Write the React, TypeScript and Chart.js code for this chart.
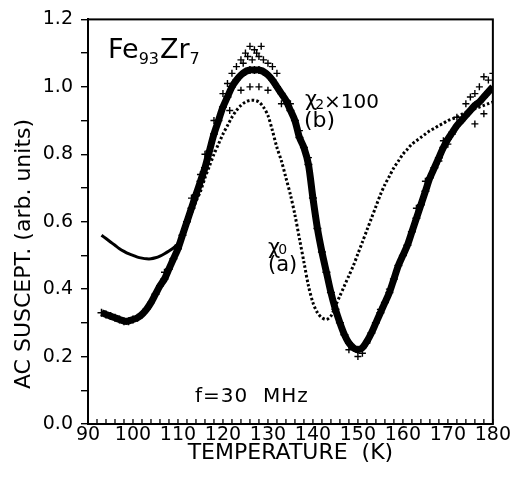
import React, { useEffect, useRef } from 'react';
import { Chart, registerables } from 'chart.js';

Chart.register(...registerables);

const temperatures = [
  93, 94, 95, 96, 97, 98, 99, 100, 101, 102, 103, 104, 105, 106, 107, 108, 109, 110,
  111, 112, 113, 114, 115, 116, 117, 118, 119, 120, 121, 122, 123, 124, 125, 126, 127, 128,
  129, 130, 131, 132, 133, 134, 135, 136, 137, 138, 139, 140, 141, 142, 143, 144, 145, 146,
  147, 148, 149, 150, 151, 152, 153, 154, 155, 156, 157, 158, 159, 160, 161, 162, 163, 164,
  165, 166, 167, 168, 169, 170, 171, 172, 173, 174, 175, 176, 177, 178, 179, 180,
];

// chi_0 (a)
const chi0 = [
  0.56, 0.55, 0.54, 0.53, 0.52, 0.512, 0.505, 0.5, 0.495, 0.492, 0.49, 0.49, 0.493, 0.498, 0.505, 0.513, 0.522, 0.535,
  0.56, 0.59, 0.625, 0.66, 0.69, 0.73, 0.765, 0.8, 0.83, 0.86, 0.885, 0.91, 0.93, 0.945, 0.955, 0.96, 0.96, 0.955,
  0.94, 0.915, 0.87, 0.82, 0.78, 0.73, 0.68, 0.62, 0.55, 0.48, 0.41, 0.36, 0.33, 0.315, 0.31, 0.32, 0.35, 0.38,
  0.41, 0.44, 0.47, 0.505, 0.54, 0.575, 0.61, 0.645, 0.68, 0.71, 0.735, 0.76, 0.78, 0.8, 0.815, 0.83, 0.84, 0.85,
  0.86, 0.87, 0.877, 0.885, 0.892, 0.9, 0.905, 0.91, 0.918, 0.925, 0.93, 0.935, 0.94, 0.945, 0.95, 0.955,
];

// chi_2 x 100 (b)
const chi2 = [
  0.33, 0.325, 0.32, 0.315, 0.31, 0.305, 0.305, 0.31, 0.315, 0.325, 0.34, 0.36, 0.385, 0.41, 0.43, 0.46, 0.49, 0.52,
  0.56, 0.6, 0.64, 0.68, 0.72, 0.76, 0.81, 0.86, 0.9, 0.94, 0.97, 1.0, 1.02, 1.035, 1.045, 1.05, 1.05, 1.05,
  1.045, 1.035, 1.02, 1.0, 0.98, 0.96, 0.93, 0.9, 0.85, 0.82, 0.77, 0.67, 0.58, 0.51, 0.45, 0.39, 0.34, 0.3,
  0.265, 0.24, 0.226, 0.22, 0.226, 0.245, 0.27, 0.3, 0.33, 0.36, 0.39, 0.43, 0.47, 0.5, 0.53, 0.57, 0.61, 0.65,
  0.69, 0.73, 0.76, 0.79, 0.82, 0.845, 0.865, 0.885, 0.9, 0.915, 0.93, 0.945, 0.955, 0.97, 0.985, 1.0,
];

// scattered chi_2 readings off the main band
const chi2ScatterT = [
  118, 120, 121, 122, 123, 124, 124.5, 125, 125.5, 126, 126.5, 127, 127.5, 128, 128.5, 129, 130, 131, 132,
  121.5, 124, 126, 128, 130, 133, 135, 137, 139, 113, 115, 116, 110, 107, 150, 151, 152, 148, 155, 157,
  163, 165, 168, 170, 172, 174, 175, 176, 177, 178, 179, 180, 176, 178, 171, 169,
];
const chi2ScatterV = [
  0.9, 0.98, 1.01, 1.04, 1.06, 1.08, 1.07, 1.1, 1.09, 1.12, 1.08, 1.11, 1.1, 1.09, 1.12, 1.08, 1.07, 1.06, 1.04,
  0.93, 0.99, 1.0, 1.0, 0.99, 0.95, 0.95, 0.87, 0.79, 0.67, 0.74, 0.8, 0.53, 0.45, 0.2, 0.21, 0.24, 0.22, 0.34, 0.4,
  0.64, 0.72, 0.78, 0.83, 0.91, 0.95, 0.97, 0.98, 1.0, 1.03, 1.02, 1.04, 0.89, 0.92, 0.86, 0.84,
];

const xMin = 90;
const xMax = 180;
const xStep = 10;
const xMinorStep = 2;
const yMin = 0;
const yMax = 1.2;
const yStep = 0.1;

const yTitle = 'AC SUSCEPT. (arb. units)';
const xTitle = 'TEMPERATURE  (K)';

const FONT = "'DejaVu Sans', sans-serif";

const framePlugin = {
  id: 'frame',
  afterDraw(chart: any) {
    const { ctx, chartArea } = chart;
    const xs = chart.scales.x;
    ctx.save();
    ctx.strokeStyle = '#000';
    ctx.lineWidth = 2;
    ctx.strokeRect(chartArea.left, chartArea.top, chartArea.right - chartArea.left, chartArea.bottom - chartArea.top);
    // minor ticks pointing inward along the bottom axis
    ctx.lineWidth = 1.3;
    for (let v = xMin; v <= xMax; v += xMinorStep) {
      const px = xs.getPixelForValue(v);
      ctx.beginPath();
      ctx.moveTo(px, chartArea.bottom);
      ctx.lineTo(px, chartArea.bottom - 5);
      ctx.stroke();
    }
    ctx.restore();
  },
};

const textPlugin = {
  id: 'texts',
  afterDraw(chart: any) {
    const { ctx } = chart;
    ctx.save();
    ctx.fillStyle = '#000';
    ctx.textBaseline = 'alphabetic';
    ctx.textAlign = 'left';

    // y axis title
    ctx.save();
    ctx.translate(30, 254);
    ctx.rotate(-Math.PI / 2);
    ctx.textAlign = 'center';
    ctx.font = `22px ${FONT}`;
    ctx.fillText(yTitle, 0, 0);
    ctx.restore();

    // Fe93Zr7
    let x = 108;
    ctx.font = `27px ${FONT}`;
    ctx.fillText('Fe', x, 58);
    x += ctx.measureText('Fe').width;
    ctx.font = `16px ${FONT}`;
    ctx.fillText('93', x, 64);
    x += ctx.measureText('93').width + 1;
    ctx.font = `27px ${FONT}`;
    ctx.fillText('Zr', x, 58);
    x += ctx.measureText('Zr').width;
    ctx.font = `16px ${FONT}`;
    ctx.fillText('7', x, 64);

    // chi2 x100 (b)
    x = 305;
    ctx.font = `21px ${FONT}`;
    ctx.fillText('χ', x, 106);
    x += ctx.measureText('χ').width - 2;
    ctx.font = `14px ${FONT}`;
    ctx.fillText('2', x, 109);
    x += ctx.measureText('2').width;
    ctx.font = `20px ${FONT}`;
    ctx.fillText('×100', x, 108);
    ctx.font = `22px ${FONT}`;
    ctx.fillText('(b)', 304, 127);

    // chi0 (a)
    x = 268;
    ctx.font = `21px ${FONT}`;
    ctx.fillText('χ', x, 254);
    x += ctx.measureText('χ').width - 2;
    ctx.font = `14px ${FONT}`;
    ctx.fillText('0', x, 254);
    ctx.font = `21px ${FONT}`;
    ctx.fillText('(a)', 268, 271);

    // frequency
    ctx.font = `20px ${FONT}`;
    (ctx as any).letterSpacing = '1px';
    ctx.fillText('f=30  MHz', 195, 402);
    ctx.restore();
  },
};

export default function App() {
  const ref = useRef<HTMLCanvasElement | null>(null);

  useEffect(() => {
    if (!ref.current) return;
    const pts = (xs: number[], ys: number[]) => xs.map((t, i) => ({ x: t, y: ys[i] }));
    const chart = new Chart(ref.current, {
      type: 'scatter',
      data: {
        datasets: [
          {
            label: 'chi0',
            data: pts(temperatures, chi0),
            showLine: true,
            borderColor: '#000',
            borderWidth: 3,
            pointRadius: 0,
            tension: 0.3,
            segment: {
              borderDash: (c: any) => (c.p0.parsed.x < 111 ? [] : [2.5, 2.2]),
            },
          } as any,
          {
            label: 'chi2',
            data: pts(temperatures, chi2),
            showLine: true,
            borderColor: '#000',
            backgroundColor: '#000',
            borderWidth: 7,
            tension: 0.3,
            pointStyle: 'cross',
            pointRadius: 4,
            pointBorderWidth: 1.5,
          },
          {
            label: 'chi2 scatter',
            data: pts(chi2ScatterT, chi2ScatterV),
            showLine: false,
            borderColor: '#000',
            pointStyle: 'cross',
            pointRadius: 3.5,
            pointBorderWidth: 1.4,
          },
        ],
      },
      options: {
        responsive: false,
        animation: false,
        layout: { padding: { top: 15, right: 18, left: 0, bottom: 0 } },
        plugins: { legend: { display: false }, tooltip: { enabled: false } },
        scales: {
          x: {
            type: 'linear',
            min: xMin,
            max: xMax,
            afterFit: (s: any) => { s.height = 57; },
            ticks: {
              stepSize: xStep,
              color: '#000',
              font: { family: FONT, size: 19 },
              padding: 0,
              maxRotation: 0,
              autoSkip: false,
              callback: (v: any) => String(v),
            },
            grid: { drawOnChartArea: false, drawTicks: false },
            border: { display: true, color: '#000', width: 2 },
            title: {
              display: true,
              text: xTitle,
              color: '#000',
              font: { family: FONT, size: 22 },
              padding: { top: 0, bottom: 15 },
            },
          },
          y: {
            type: 'linear',
            min: yMin,
            max: yMax,
            afterFit: (s: any) => { s.width = 88; },
            ticks: {
              stepSize: yStep,
              color: '#000',
              font: { family: FONT, size: 19 },
              padding: 8,
              autoSkip: false,
              callback: (v: any) => {
                const k = Math.round(Number(v) * 10);
                return k % 2 === 0 ? (k / 10).toFixed(1) : '';
              },
            },
            grid: { drawOnChartArea: false, drawTicks: true, tickLength: 7, color: '#000', lineWidth: 1.4 },
            border: { display: true, color: '#000', width: 2 },
          },
        },
      },
      plugins: [framePlugin, textPlugin],
    });
    return () => chart.destroy();
  }, []);

  return (
    <div style={{ position: 'absolute', left: 0, top: 0, width: 511, height: 481, background: '#fff' }}>
      <canvas ref={ref} width={511} height={481} style={{ display: 'block', width: 511, height: 481 }} />
    </div>
  );
}
